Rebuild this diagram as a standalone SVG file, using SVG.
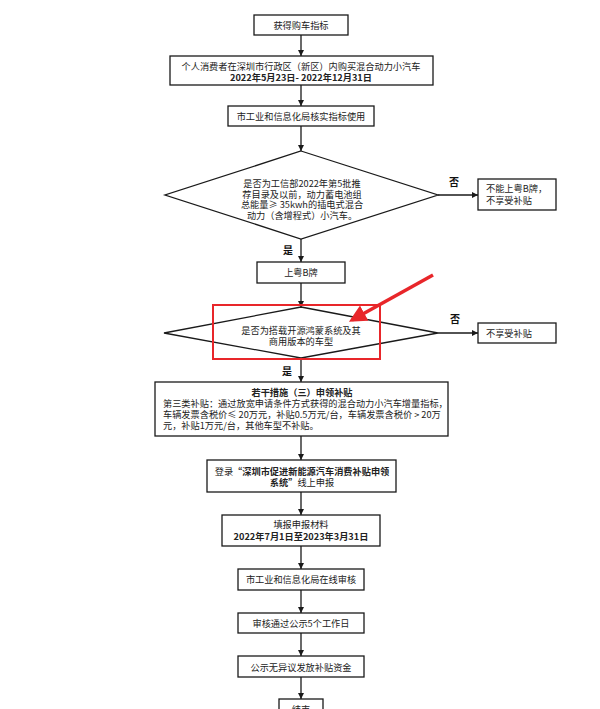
<svg xmlns="http://www.w3.org/2000/svg" width="600" height="709" viewBox="0 0 600 709">
<style>
.box{fill:#fff;stroke:#1a1a1a;stroke-width:1.3}
.t{font-family:"Noto Sans CJK SC","Noto Sans",sans-serif;font-size:9.2px;fill:#222}
.c{text-anchor:middle}
.b{font-weight:bold}
.lab{font-family:"Noto Sans CJK SC","Noto Sans",sans-serif;font-size:10px;font-weight:bold;fill:#111}
.ln{stroke:#1a1a1a;stroke-width:1.3;fill:none;marker-end:url(#ah)}
</style>
<defs>
<marker id="ah" viewBox="0 0 10 10" refX="10" refY="5" markerWidth="6" markerHeight="6" markerUnits="userSpaceOnUse" orient="auto">
<path d="M0,0L10,5L0,10z" fill="#1a1a1a"/>
</marker>
<marker id="rh" viewBox="0 0 10 10" refX="8" refY="5" markerWidth="5" markerHeight="5" orient="auto">
<path d="M0,0L10,5L0,10z" fill="#e8262a"/>
</marker>
</defs>
<rect width="600" height="709" fill="#fff"/>
<g id="connectors">
<line class="ln" x1="301" y1="35" x2="301" y2="56"/>
<line class="ln" x1="301" y1="85" x2="301" y2="106"/>
<line class="ln" x1="301" y1="126" x2="301" y2="151"/>
<line class="ln" x1="301" y1="239" x2="301" y2="262"/>
<line class="ln" x1="438" y1="195" x2="478" y2="195"/>
<line class="ln" x1="301" y1="283" x2="301" y2="307"/>
<line class="ln" x1="438" y1="333" x2="478" y2="333"/>
<line class="ln" x1="301" y1="358" x2="301" y2="382"/>
<line class="ln" x1="301" y1="436" x2="301" y2="460"/>
<line class="ln" x1="301" y1="492" x2="301" y2="515"/>
<line class="ln" x1="301" y1="546" x2="301" y2="569"/>
<line class="ln" x1="301" y1="590" x2="301" y2="613"/>
<line class="ln" x1="301" y1="633" x2="301" y2="656"/>
<line class="ln" x1="301" y1="677" x2="301" y2="699"/>
<text class="lab" x="454" y="186" text-anchor="middle">否</text>
<text class="lab" x="288" y="254" text-anchor="middle">是</text>
<text class="lab" x="455" y="323" text-anchor="middle">否</text>
<text class="lab" x="287" y="375" text-anchor="middle">是</text>
</g>
<g id="n1">
<rect class="box" x="254" y="15" width="94" height="20"/>
<text class="t c" x="301" y="29">获得购车指标</text>
</g>
<g id="n2">
<rect class="box" x="170" y="56" width="263" height="29"/>
<text class="t c" x="301" y="70">个人消费者在深圳市行政区（新区）内购买混合动力小汽车</text>
<text class="t c b" x="301" y="81">2022年5月23日- 2022年12月31日</text>
</g>
<g id="n3">
<rect class="box" x="228" y="106" width="146" height="20"/>
<text class="t c" x="301" y="119.5">市工业和信息化局核实指标使用</text>
</g>
<g id="d1">
<polygon class="box" points="301,151 438,195 301,239 165,195"/>
<text class="t c" x="302" y="187">是否为工信部2022年第5批推</text>
<text class="t c" x="302" y="197.5">荐目录及以前，动力蓄电池组</text>
<text class="t c" x="302" y="208">总能量≥ 35kwh的插电式混合</text>
<text class="t c" x="302" y="218.5">动力（含增程式）小汽车。</text>
</g>
<g id="r1">
<rect class="box" x="478" y="179" width="78" height="31"/>
<text class="t" x="486" y="192">不能上粤B牌，</text>
<text class="t" x="486" y="204">不享受补贴</text>
</g>
<g id="n4">
<rect class="box" x="257" y="262" width="88" height="21"/>
<text class="t c" x="301" y="276">上粤B牌</text>
</g>
<g id="d2">
<polygon class="box" points="301,307 438,333 301,358 164,333"/>
<text class="t c" x="301" y="334">是否为搭载开源鸿蒙系统及其</text>
<text class="t c" x="301" y="344.5">商用版本的车型</text>
</g>
<g id="r2">
<rect class="box" x="478" y="323" width="78" height="20"/>
<text class="t" x="486" y="337">不享受补贴</text>
</g>
<g id="highlight">
<rect x="213" y="305" width="167" height="54" fill="none" stroke="#e8262a" stroke-width="2"/>
<line x1="433" y1="275" x2="352" y2="320" stroke="#e8262a" stroke-width="3.5" marker-end="url(#rh)"/>
</g>
<g id="n5">
<rect class="box" x="155" y="382" width="293" height="54"/>
<text class="t c b" x="302" y="396">若干措施（三）申领补贴</text>
<text class="t" x="163" y="407">第三类补贴：通过放宽申请条件方式获得的混合动力小汽车增量指标，</text>
<text class="t" x="163" y="418">车辆发票含税价≤ 20万元，补贴0.5万元/台，车辆发票含税价 &gt; 20万</text>
<text class="t" x="163" y="428.5">元，补贴1万元/台，其他车型不补贴。</text>
</g>
<g id="n6">
<rect class="box" x="207" y="460" width="189" height="32"/>
<text class="t c" x="302" y="474.5">登录<tspan class="b">“深圳市促进新能源汽车消费补贴申领</tspan></text>
<text class="t c" x="302" y="485.5"><tspan class="b">系统”</tspan>线上申报</text>
</g>
<g id="n7">
<rect class="box" x="222" y="515" width="158" height="31"/>
<text class="t c" x="301" y="527.5">填报申报材料</text>
<text class="t c b" x="301" y="539.5">2022年7月1日至2023年3月31日</text>
</g>
<g id="n8">
<rect class="box" x="238" y="569" width="126" height="21"/>
<text class="t c" x="301" y="582.5">市工业和信息化局在线审核</text>
</g>
<g id="n9">
<rect class="box" x="238" y="613" width="126" height="20"/>
<text class="t c" x="301" y="626.5">审核通过公示5个工作日</text>
</g>
<g id="n10">
<rect class="box" x="238" y="656" width="126" height="21"/>
<text class="t c" x="301" y="670.5">公示无异议发放补贴资金</text>
</g>
<g id="n11">
<rect class="box" x="279" y="699" width="44" height="22"/>
<text class="t c" x="301" y="713">结束</text>
</g>
</svg>
